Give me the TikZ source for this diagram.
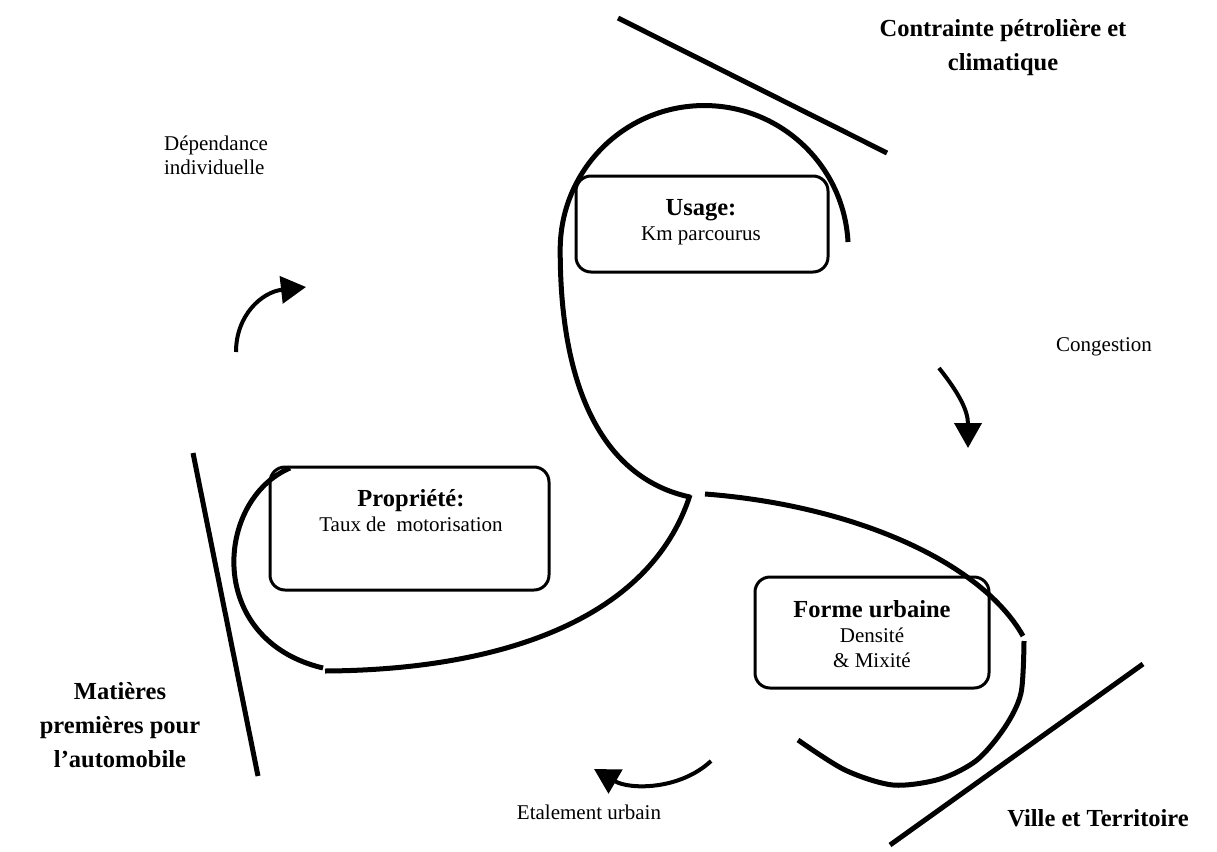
\documentclass[tikz,border=0pt]{standalone}
\usepackage{fontspec}
\setmainfont{Liberation Serif}
\usetikzlibrary{arrows.meta}
\tikzset{
  loop/.style={line width=5pt},
  bar/.style={line width=5pt},
  box/.style={rectangle,rounded corners=15pt,draw,line width=3pt,inner sep=0pt},
  boxtext/.style={align=center,font=\fontsize{21}{25}\selectfont},
  lab/.style={align=center,font=\fontsize{21}{24}\selectfont},
  biglab/.style={align=center,font=\bfseries\fontsize{24.5}{34}\selectfont},
  turn/.style={line width=4pt,-{Triangle[length=25pt,width=27pt]}}
}
\newcommand{\boxtitle}[1]{{\bfseries\fontsize{24.5}{25}\selectfont #1}}

\begin{document}
\begin{tikzpicture}[x=1pt,y=-1pt]
  \useasboundingbox (0,0) rectangle (1217,851);
  % the three constraints
  \draw[bar] (618,18) -- (887,153);
  \draw[bar] (193,453) -- (258,776);
  \draw[bar] (890,845) -- (1143,664);
  \node[biglab] (petrole) at (1003,48) {Contrainte pétrolière et\\climatique};
  \node[biglab] (matieres) at (120,725) {Matières\\premières pour\\l’automobile};
  \node[biglab] (ville) at (1098,818) {Ville et Territoire};
  % boxes
  \node[box,minimum width=252pt,minimum height=96pt] (usage) at (702,224) {};
  \node[box,minimum width=279pt,minimum height=123pt] (prop) at (409.5,528.5) {};
  \node[box,minimum width=234pt,minimum height=111pt] (forme) at (872,632.5) {};
  \node[boxtext] (usagetxt) at (701,222) {\boxtitle{Usage:}\\Km parcourus};
  \node[boxtext] (proptxt) at (411,511) {\boxtitle{Propriété:}\\Taux de~ motorisation};
  \node[boxtext] (formetxt) at (872,634) {\boxtitle{Forme urbaine}\\Densité\\\& Mixité};
  % the loops
  \draw[loop] (848,242) arc[start angle=-3,end angle=-180,radius=144]
    .. controls (560,400) and (610,480) .. (690,497);
  \draw[loop] (705,494) .. controls (850,505) and (980,560) .. (1023,636);
  \draw[loop] plot[smooth] coordinates {(1024,641) (1021,693) (1005,727) (977,760) (940,779) (893,785) (845,770) (798,740)};
  \draw[loop] (690,495) .. controls (650,620) and (500,670) .. (325,671);
  \draw[loop] (290,468) .. controls (215,500) and (205,640) .. (323,668);
  % feedback arrows
  \draw[turn] (236,352) .. controls (236,315) and (262,292) .. (306,287);
  \draw[turn] (939,368) .. controls (958,392) and (968,410) .. (968,448);
  \draw[turn] (711,761) .. controls (680,790) and (630,790) .. (594,769);
  \node[lab,align=left] (dependance) at (216,155) {Dépendance\\individuelle};
  \node[lab] (congestion) at (1104,347) {Congestion};
  \node[lab] (etalement) at (589,812) {Etalement urbain};
\end{tikzpicture}
\end{document}
